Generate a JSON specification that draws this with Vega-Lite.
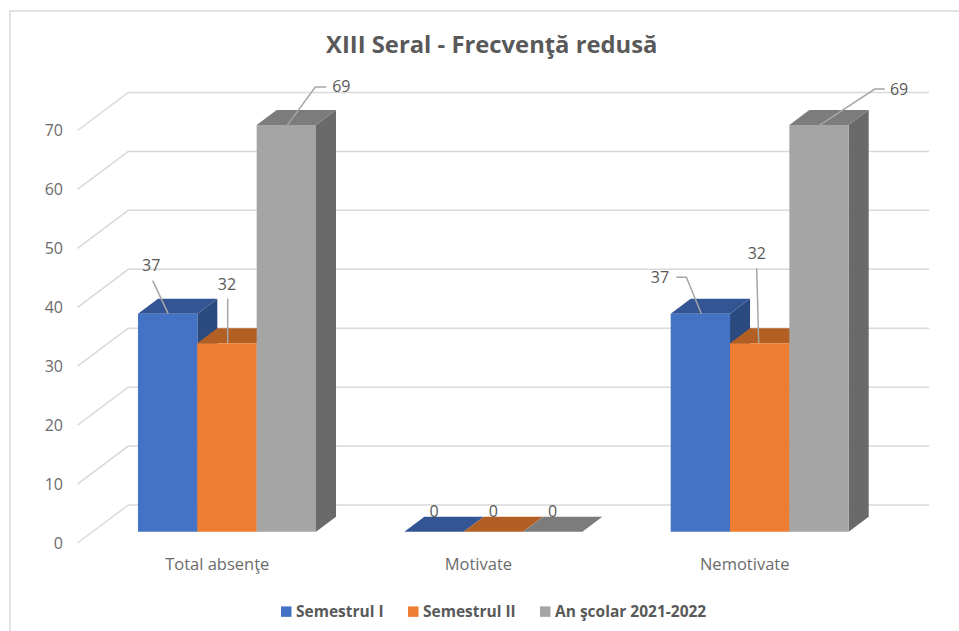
{"$schema":"https://vega.github.io/schema/vega-lite/v6.json","autosize":{"type":"none"},"padding":{"left":77.5,"top":130.5,"right":30,"bottom":88},"width":851.5,"height":412.5,"background":"#ffffff","view":{"stroke":null},"title":{"text":"XIII Seral - Frecvenţă redusă","font":"Open Sans","fontSize":23.8,"fontWeight":"bold","color":"#595959","anchor":"middle","dx":-11.5,"offset":-74,"baseline":"bottom"},"config":{"axisY":{"domain":false,"ticks":false,"grid":false,"labelFont":"Open Sans","labelFontSize":16,"labelColor":"#6b6b6b","labelPadding":15}},"datasets":{"rows":[{"category":"Total absenţe","series":"Semestrul I","value":37},{"category":"Total absenţe","series":"Semestrul II","value":32},{"category":"Total absenţe","series":"An şcolar 2021-2022","value":69},{"category":"Motivate","series":"Semestrul I","value":0},{"category":"Motivate","series":"Semestrul II","value":0},{"category":"Motivate","series":"An şcolar 2021-2022","value":0},{"category":"Nemotivate","series":"Semestrul I","value":37},{"category":"Nemotivate","series":"Semestrul II","value":32},{"category":"Nemotivate","series":"An şcolar 2021-2022","value":69}],"ticks":[{"tick":0},{"tick":10},{"tick":20},{"tick":30},{"tick":40},{"tick":50},{"tick":60},{"tick":70}],"frame":[{"frame":1}]},"layer":[{"data":{"name":"frame"},"mark":{"type":"point","shape":"M-493.25,294.25 L-493.25,-325.75 L455.75,-325.75","size":4,"filled":false,"stroke":"#d9d9d9","strokeWidth":1.5,"opacity":1},"encoding":{}},{"data":{"name":"ticks"},"mark":{"type":"point","shape":"M-425.75,0 L-375,-38 L425.75,-38","size":4,"filled":false,"stroke":"#d9d9d9","strokeWidth":1.5,"opacity":1},"encoding":{"y":{"field":"tick","type":"quantitative","title":null,"scale":{"domain":[0,70],"nice":false},"axis":{"values":[0,10,20,30,40,50,60,70]}}}},{"data":{"name":"rows"},"encoding":{"x":{"field":"category","type":"nominal","sort":["Total absenţe","Motivate","Nemotivate"],"scale":{"type":"band","domain":["Total absenţe","Motivate","Nemotivate"],"range":[60.5,771.2],"paddingInner":0.3317,"paddingOuter":0},"axis":{"title":null,"domain":false,"ticks":false,"grid":false,"labelAngle":0,"labelFont":"Open Sans","labelFontSize":16.5,"labelColor":"#6b6b6b","labelPadding":13,"labelOffset":{"expr":"datum.label=='Total absenţe'?-9.75:-15"}}},"xOffset":{"field":"series","type":"nominal","scale":{"domain":["Semestrul I","Semestrul II","An şcolar 2021-2022"],"paddingInner":0,"paddingOuter":0}}},"layer":[{"mark":{"type":"point","filled":true,"size":4,"opacity":1,"strokeWidth":0,"yOffset":-11.3,"shape":{"expr":"'M29.67,0 L49.67,-15 L49.67,'+(-15-datum.value*5.893)+' L29.67,'+(-datum.value*5.893)+' Z'"}},"encoding":{"y":{"datum":0,"type":"quantitative","title":null,"axis":{"values":[0,10,20,30,40,50,60,70]}},"color":{"condition":[{"test":"datum.series=='Semestrul I'","value":"#2a4a80"},{"test":"datum.series=='Semestrul II'","value":"#9e5120"}],"value":"#6a6a6a"}}},{"mark":{"type":"point","filled":true,"size":4,"opacity":1,"strokeWidth":0,"yOffset":-11.3,"shape":"M-29.67,0 L-9.67,-15 L49.67,-15 L29.67,0 Z"},"encoding":{"y":{"field":"value","type":"quantitative","title":null,"axis":{"values":[0,10,20,30,40,50,60,70]}},"color":{"condition":[{"test":"datum.series=='Semestrul I'","value":"#335593"},{"test":"datum.series=='Semestrul II'","value":"#b25f24"}],"value":"#7c7c7c"}}},{"mark":{"type":"bar","yOffset":-11.3,"y2Offset":-11.3},"encoding":{"y":{"field":"value","type":"quantitative","title":null,"axis":{"values":[0,10,20,30,40,50,60,70]}},"y2":{"datum":0},"color":{"field":"series","type":"nominal","scale":{"domain":["Semestrul I","Semestrul II","An şcolar 2021-2022"],"range":["#4472c4","#ed7d31","#a5a5a5"]},"legend":{"title":null,"orient":"none","legendX":201,"legendY":473,"direction":"horizontal","columns":3,"symbolType":"square","symbolSize":110,"symbolStrokeWidth":0,"labelFont":"Open Sans","labelFontSize":15.5,"labelFontWeight":"bold","labelColor":"#595959","labelOffset":2,"columnPadding":21}}}},{"transform":[{"filter":"datum.value>0"}],"mark":{"type":"point","filled":false,"size":4,"opacity":1,"stroke":"#a6a6a6","strokeWidth":1.5,"yOffset":-11.3,"shape":{"expr":"datum.category=='Total absenţe'?(datum.value==37?'M0.5,0 L-15,-33':datum.value==32?'M0.7,0 L0.7,-44.5':'M1,0 L29,-38 L40,-38'):(datum.value==37?'M1,0 L-14,-36.5 L-24,-36.5':datum.value==32?'M-1,0 L-3,-75':'M0.7,0 L55.7,-36 L65.7,-36')"}},"encoding":{"y":{"field":"value","type":"quantitative","title":null,"axis":{"values":[0,10,20,30,40,50,60,70]}}}},{"mark":{"type":"text","font":"Open Sans","fontSize":16,"color":"#595959","baseline":"middle","align":"center","dx":{"expr":"datum.value==0?0:datum.category=='Total absenţe'?(datum.value==37?-16.5:datum.value==32?0:55):(datum.value==37?-40.4:datum.value==32?-2.9:80)"},"dy":{"expr":"datum.value==0?-31.3:datum.category=='Total absenţe'?(datum.value==37?-59.3:datum.value==32?-69.1:-49):(datum.value==37?-47.1:datum.value==32?-100.1:-46.7)"}},"encoding":{"y":{"field":"value","type":"quantitative","title":null,"axis":{"values":[0,10,20,30,40,50,60,70]}},"text":{"field":"value","type":"quantitative"}}}]}]}
